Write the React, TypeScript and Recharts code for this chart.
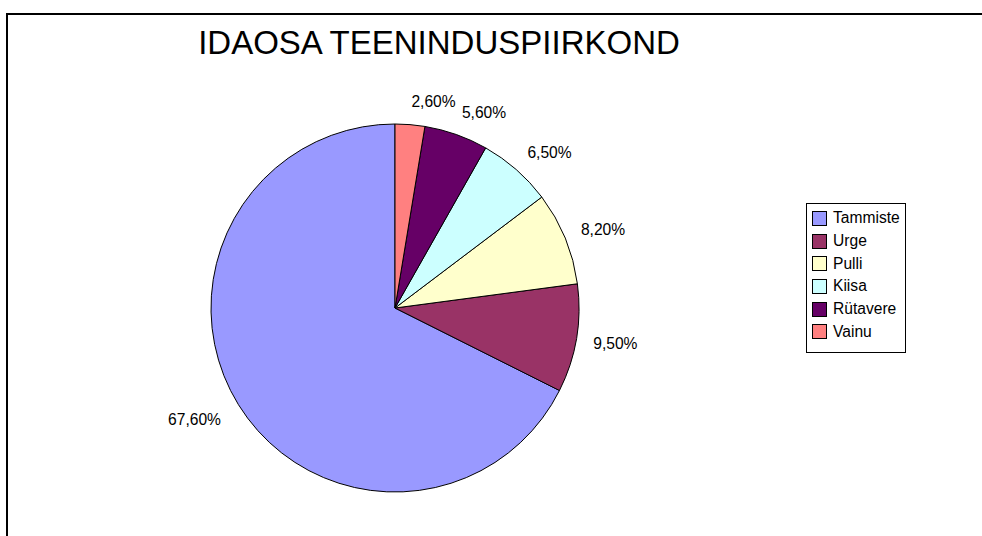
import React from 'react';
import { PieChart, Pie, Cell, Legend } from 'recharts';

const categories = ['Tammiste', 'Urge', 'Pulli', 'Kiisa', 'Rütavere', 'Vainu'];
const shares = [67.6, 9.5, 8.2, 6.5, 5.6, 2.6];
const colors = ['#9999FF', '#993366', '#FFFFCC', '#CCFFFF', '#660066', '#FF8080'];
const title = 'IDAOSA TEENINDUSPIIRKOND';

const data = categories.map((name, i) => ({ name, value: shares[i] }));
const fmt = (v: number) => v.toFixed(2).replace('.', ',') + '%';
const FONT = '"Liberation Sans", Arial, sans-serif';
const RAD = Math.PI / 180;

const renderLabel = (props: any) => {
  const { cx, cy, midAngle, outerRadius, value } = props;
  const c = Math.cos(midAngle * RAD);
  const s = Math.sin(midAngle * RAD);
  const text = fmt(value);
  const r = outerRadius + 17;
  const px = cx + r * c;
  const py = cy - r * s;
  const halfH = 6;
  const dy = s >= 0 ? -halfH * s : -halfH * 2 * s;
  return (
    <text
      x={c >= 0 ? px : px - 3}
      y={py + dy}
      textAnchor={c >= 0 ? 'start' : 'end'}
      dominantBaseline="central"
      fill="#000"
      fontSize={15.6}
      fontFamily={FONT}
    >
      {text}
    </text>
  );
};

const renderLegend = (props: any) => {
  const payload = [...(props.payload || [])].sort(
    (a: any, b: any) => categories.indexOf(a.value) - categories.indexOf(b.value)
  );
  return (
    <div
      style={{
        border: '1px solid #000',
        width: 98,
        height: 145,
        background: '#fff',
        boxSizing: 'content-box',
        paddingTop: 3,
        fontFamily: FONT,
        fontSize: 15.6,
      }}
    >
      {payload.map((p: any, i: number) => (
        <div key={i} style={{ display: 'flex', alignItems: 'center', height: 22.7, paddingLeft: 5 }}>
          <div
            style={{
              width: 13,
              height: 13,
              background: p.color,
              border: '1px solid #000',
              marginRight: 6,
              flexShrink: 0,
            }}
          />
          <span style={{ color: '#000', lineHeight: '16px' }}>{p.value}</span>
        </div>
      ))}
    </div>
  );
};

export default function App() {
  return (
    <div
      style={{
        position: 'fixed',
        left: 0,
        top: 0,
        width: 982,
        height: 536,
        overflow: 'hidden',
        background: '#fff',
      }}
    >
      <div
        style={{
          position: 'absolute',
          left: 6,
          top: 13,
          width: 1100,
          height: 700,
          border: '2px solid #000',
        }}
      />
      <div
        style={{
          position: 'absolute',
          left: 0,
          width: 878,
          top: 26,
          textAlign: 'center',
          fontFamily: FONT,
          fontSize: 33,
          lineHeight: '33px',
          color: '#000',
          whiteSpace: 'nowrap',
        }}
      >
        {title}
      </div>
      <div style={{ position: 'absolute', left: 0, top: 0 }}>
        <PieChart width={982} height={536} margin={{ top: 0, right: 0, bottom: 0, left: 0 }}>
          <Pie
            data={data}
            dataKey="value"
            nameKey="name"
            cx={395}
            cy={308}
            outerRadius={184}
            startAngle={90}
            endAngle={450}
            stroke="#000"
            strokeWidth={1}
            label={renderLabel}
            labelLine={false}
            isAnimationActive={false}
          >
            {data.map((d, i) => (
              <Cell key={d.name} fill={colors[i]} />
            ))}
          </Pie>
          <Legend
            content={renderLegend}
            wrapperStyle={{ position: 'absolute', left: 806, top: 203, width: 100 }}
          />
        </PieChart>
      </div>
    </div>
  );
}
